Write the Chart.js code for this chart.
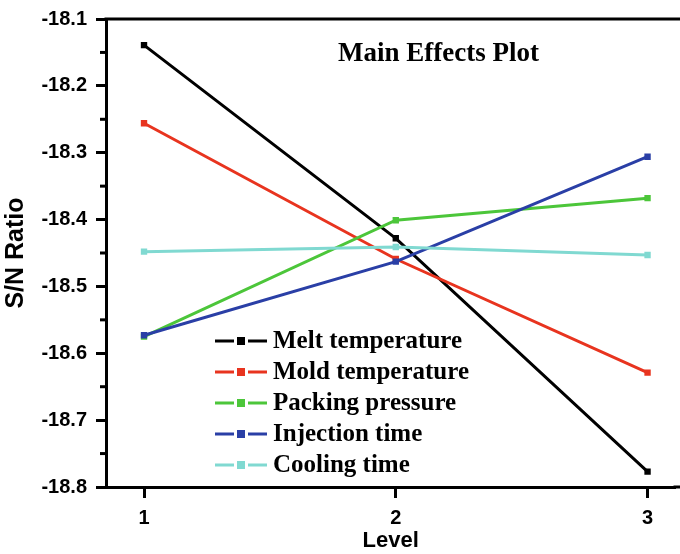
<!DOCTYPE html>
<html>
<head>
<meta charset="utf-8">
<script src="https://cdn.jsdelivr.net/npm/chart.js@4/dist/chart.umd.min.js"></script>
<style>
  html, body { margin: 0; padding: 0; background: #fff; overflow: hidden; }
  #wrap { width: 680px; height: 554px; }
</style>
</head>
<body>
<div id="wrap"><canvas id="mainEffects" width="680" height="554"></canvas></div>
<script>
// S/N ratio per factor level
const levels = [1, 2, 3];
const seriesNames = ['Melt temperature', 'Mold temperature', 'Packing pressure', 'Injection time', 'Cooling time'];
const meltTemp = [-18.139, -18.428, -18.777];
const moldTemp = [-18.256, -18.459, -18.629];
const packingPressure = [-18.575, -18.401, -18.368];
const injectionTime = [-18.573, -18.463, -18.306];
const coolingTime = [-18.448, -18.441, -18.453];
const seriesValues = [meltTemp, moldTemp, packingPressure, injectionTime, coolingTime];
const seriesColors = ['#000000', '#e8341f', '#4cc63a', '#2a3fa6', '#80d9d1'];

const Y_MIN = -18.8, Y_MAX = -18.1;

// title, in-plot legend, frame lines and minor y ticks
const decorations = {
  id: 'decorations',
  afterDraw(chart) {
    const { ctx, chartArea, width } = chart;
    const y = chart.scales.y;
    ctx.save();
    // top frame, and both horizontal frame lines run off the right edge
    ctx.strokeStyle = '#000';
    ctx.lineWidth = 3;
    ctx.beginPath();
    ctx.moveTo(chartArea.left - 1.5, chartArea.top);
    ctx.lineTo(width, chartArea.top);
    ctx.moveTo(chartArea.right - 2, chartArea.bottom);
    ctx.lineTo(width, chartArea.bottom);
    ctx.stroke();
    // minor ticks every 0.05
    for (let v = Y_MIN + 0.05; v < Y_MAX; v += 0.1) {
      const py = y.getPixelForValue(v);
      ctx.beginPath();
      ctx.moveTo(chartArea.left - 6, py);
      ctx.lineTo(chartArea.left, py);
      ctx.stroke();
    }
    // title
    ctx.fillStyle = '#000';
    ctx.font = 'bold 27px "Liberation Serif"';
    ctx.textBaseline = 'middle';
    ctx.textAlign = 'left';
    ctx.fillText('Main Effects Plot', 338, 54);
    // legend
    ctx.font = 'bold 25px "Liberation Serif"';
    chart.data.datasets.forEach((ds, i) => {
      const ly = 341 + i * 31;
      ctx.strokeStyle = ds.borderColor;
      ctx.lineWidth = 3;
      ctx.beginPath();
      ctx.moveTo(215, ly);
      ctx.lineTo(234, ly);
      ctx.moveTo(248, ly);
      ctx.lineTo(267, ly);
      ctx.stroke();
      ctx.fillStyle = ds.borderColor;
      ctx.fillRect(237, ly - 4, 8, 8);
      ctx.fillStyle = '#000';
      ctx.fillText(ds.label, 273, ly + 1);
    });
    ctx.restore();
  }
};

const datasets = seriesNames.map((name, i) => ({
  label: name,
  data: levels.map((lv, j) => ({ x: lv, y: seriesValues[i][j] })),
  borderColor: seriesColors[i],
  backgroundColor: seriesColors[i],
  borderWidth: 3,
  pointStyle: 'rect',
  pointRadius: 4.5,
  pointHoverRadius: 4.5,
  pointBorderWidth: 0,
  order: seriesNames.length - i,
  tension: 0
}));

new Chart(document.getElementById('mainEffects').getContext('2d'), {
  type: 'line',
  data: { datasets },
  plugins: [decorations],
  options: {
    responsive: false,
    animation: false,
    layout: { padding: { top: 18, right: 0, left: 0, bottom: 0 } },
    plugins: {
      legend: { display: false },
      tooltip: { enabled: false }
    },
    scales: {
      x: {
        type: 'linear',
        min: 0.849,
        max: 3.111,
        afterBuildTicks: s => { s.ticks = levels.map(v => ({ value: v })); },
        afterFit: s => { s.height = 67; },
        border: { display: true, color: '#000', width: 3 },
        grid: { drawOnChartArea: false, color: '#000', tickLength: 11, tickWidth: 3 },
        ticks: {
          color: '#000',
          padding: 8,
          font: { family: '"Liberation Sans"', weight: 'bold', size: 20 },
          callback: v => String(v)
        },
        title: {
          display: true,
          text: 'Level',
          color: '#000',
          padding: { top: 0, bottom: 0 },
          font: { family: '"Liberation Sans"', weight: 'bold', size: 22 }
        }
      },
      y: {
        type: 'linear',
        min: Y_MIN,
        max: Y_MAX,
        afterFit: s => { s.width = 106; },
        border: { display: true, color: '#000', width: 3 },
        grid: { drawOnChartArea: false, color: '#000', tickLength: 10, tickWidth: 3 },
        ticks: {
          stepSize: 0.1,
          color: '#000',
          padding: 9,
          font: { family: '"Liberation Sans"', weight: 'bold', size: 20, lineHeight: 1 },
          callback: v => v.toFixed(1)
        },
        title: {
          display: true,
          text: 'S/N Ratio',
          color: '#000',
          padding: { top: 1, bottom: 0 },
          font: { family: '"Liberation Sans"', weight: 'bold', size: 25 }
        }
      }
    }
  }
});
</script>
</body>
</html>
